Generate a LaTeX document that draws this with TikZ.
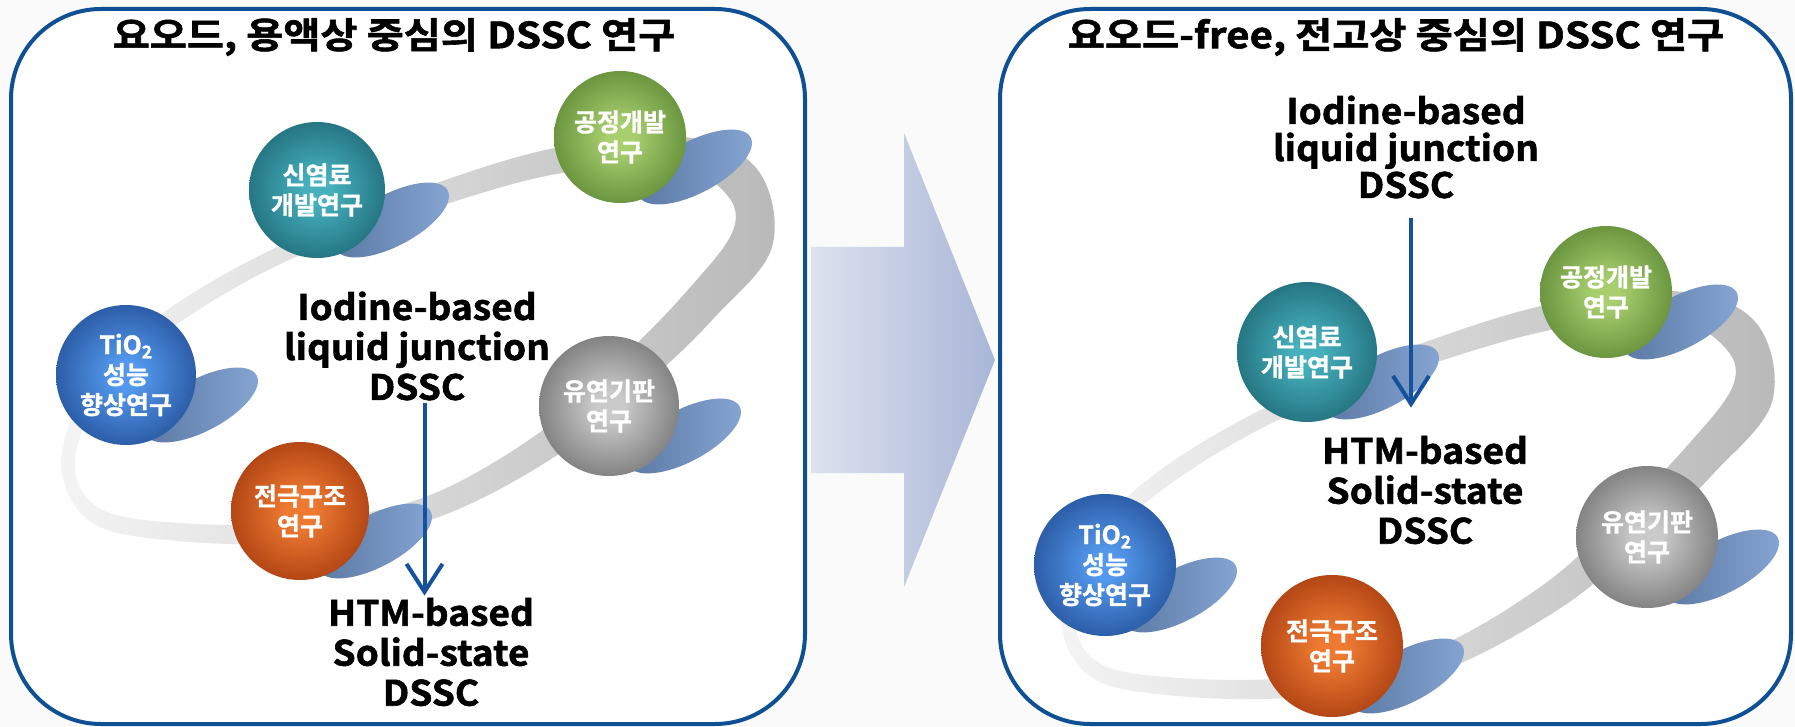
\documentclass[tikz,border=0pt]{standalone}
\usepackage{fontspec}
\newfontfamily\krb{Noto Sans CJK KR Bold}[FakeBold=1.2]
\newfontfamily\krl{Noto Sans CJK KR Bold}[FakeBold=1.6, FakeStretch=1.06]
\newfontfamily\krt{Noto Sans CJK KR Bold}[FakeBold=1.6, FakeStretch=1.12]
\usetikzlibrary{arrows.meta}

\definecolor{panelblue}{HTML}{0F4F94}
\definecolor{arrowblue}{HTML}{14529C}
\definecolor{ringL}{HTML}{F4F4F4}
\definecolor{ringR}{HTML}{B9B9B9}
\definecolor{shA}{HTML}{5A77A2}
\definecolor{shB}{HTML}{86A6D4}
\definecolor{bigA}{HTML}{DEE2EE}
\definecolor{bigB}{HTML}{A8B6D7}

\definecolor{tealA}{HTML}{46B0BD}\definecolor{tealB}{HTML}{1E6875}\definecolor{tealC}{HTML}{0A2C36}
\definecolor{greenA}{HTML}{A8CE6E}\definecolor{greenB}{HTML}{5C8834}\definecolor{greenC}{HTML}{253C13}
\definecolor{blueA}{HTML}{5398EC}\definecolor{blueB}{HTML}{234F98}\definecolor{blueC}{HTML}{0B1E46}
\definecolor{grayA}{HTML}{CACACA}\definecolor{grayB}{HTML}{727272}\definecolor{grayC}{HTML}{2C2C2C}
\definecolor{rustA}{HTML}{EE7A32}\definecolor{rustB}{HTML}{A63A0E}\definecolor{rustC}{HTML}{3C0F04}

% radial shading for a glossy ball: light core, dark rim
\newcommand\mksphere[4]{%
  \pgfdeclareradialshading{#1}{\pgfpoint{0bp}{0bp}}%
    {color(0bp)=(#2); color(5bp)=(#2); color(30bp)=(#3); color(50bp)=(#4); color(75bp)=(#4)}}
\mksphere{sphTeal}{tealA}{tealB}{tealC}
\mksphere{sphGreen}{greenA}{greenB}{greenC}
\mksphere{sphBlue}{blueA}{blueB}{blueC}
\mksphere{sphGray}{grayA}{grayB}{grayC}
\mksphere{sphRust}{rustA}{rustB}{rustC}

% floor shadow of a ball whose centre is #1
\newcommand\floorshadow[1]{%
  \begin{scope}[shift={#1}]
    \begin{scope}[shift={(75,30)}, rotate=28]
      \shade[left color=shA, right color=shB] (0,0) ellipse [x radius=63pt, y radius=26pt];
    \end{scope}
  \end{scope}}

% the tilted oval track behind the balls
\newcommand\trackband{%
  \shade[even odd rule, left color=ringL, right color=ringR]
    plot[smooth cycle, tension=0.6] coordinates {(283,244) (431,185) (560,147) (684,137) (757,169) (772,247) (714,318) (652,378) (559,454) (433,519) (301,542) (178,541) (91,522) (61,460) (94,381) (163,313)}
    plot[smooth cycle, tension=0.6] coordinates {(289,260) (437,207) (562,173) (676,167) (727,195) (732,233) (686,292) (628,352) (543,430) (425,497) (299,522) (180,523) (99,508) (75,460) (106,389) (173,327)};}

\tikzset{
  panel/.style={draw=panelblue, line width=4pt, rounded corners=90pt, fill=white},
  ttl/.style={font=\krt\fontsize{36}{40}\selectfont, text=black, inner sep=0pt},
  lbl/.style={font=\krl\fontsize{35}{40}\selectfont, align=center, text=black, inner sep=2pt},
  ball/.style={circle, inner sep=0pt, text=white, align=center,
               font=\krb\fontsize{25}{30}\selectfont},
  conn/.style={draw=arrowblue, line width=4pt,
               -{Straight Barb[length=28pt, width=36pt]}},
}

\begin{document}
\begin{tikzpicture}[x=1pt, y=-1pt]
\useasboundingbox (0,0) rectangle (1795,727);
\fill[white!98!black] (0,0) rectangle (1795,727);

% two rounded panels
\draw[panel] (11,9) rectangle (805,724);
\draw[panel] (1000,9) rectangle (1791,724);

% transition arrow between the panels
\shade[left color=bigA, right color=bigB]
  (811,247) -- (904,247) -- (904,133) -- (995,360) -- (904,587) -- (904,473) -- (811,473) -- cycle;

% ---------------- left panel ----------------
\node[ttl] (tL) at (394,37) {요오드, 용액상 중심의 DSSC 연구};
\trackband
\floorshadow{(317,190)}
\floorshadow{(620,137)}
\floorshadow{(126,375)}
\floorshadow{(609,406)}
\floorshadow{(300,511)}
\node[ball, shading=sphTeal,  minimum size=136pt] (sL1) at (317,190) {신염료\\개발연구};
\node[ball, shading=sphGreen, minimum size=132pt] (sL2) at (620,137) {공정개발\\연구};
\node[ball, shading=sphBlue,  minimum size=140pt] (sL3) at (126,375) {TiO\textsubscript{2}\\성능\\향상연구};
\node[ball, shading=sphGray,  minimum size=140pt] (sL4) at (609,406) {유연기판\\연구};
\node[ball, shading=sphRust,  minimum size=138pt] (sL5) at (300,511) {전극구조\\연구};

\node[lbl] (iodL) at (417,346) {Iodine-based\\liquid junction\\DSSC};
\node[lbl] (htmL) at (431,652) {HTM-based\\Solid-state\\DSSC};
\coordinate (axL) at (424.5,0);
\draw[conn] (iodL.south -| axL) -- (htmL.north -| axL);

% ---------------- right panel ----------------
\node[ttl] (tR) at (1396,37) {요오드-free, 전고상 중심의 DSSC 연구};
\begin{scope}[shift={(1000,155)}]
  \trackband
\end{scope}
\floorshadow{(1307,352)}
\floorshadow{(1606,292)}
\floorshadow{(1105,565)}
\floorshadow{(1647,537)}
\floorshadow{(1332,646)}
\node[ball, shading=sphTeal,  minimum size=140pt] (sR1) at (1307,352) {신염료\\개발연구};
\node[ball, shading=sphGreen, minimum size=132pt] (sR2) at (1606,292) {공정개발\\연구};
\node[ball, shading=sphBlue,  minimum size=142pt] (sR3) at (1105,565) {TiO\textsubscript{2}\\성능\\향상연구};
\node[ball, shading=sphGray,  minimum size=142pt] (sR4) at (1647,537) {유연기판\\연구};
\node[ball, shading=sphRust,  minimum size=142pt] (sR5) at (1332,646) {전극구조\\연구};

\node[lbl, font=\krl\fontsize{35}{37}\selectfont] (iodR) at (1406,147) {Iodine-based\\liquid junction\\DSSC};
\node[lbl] (htmR) at (1425,490) {HTM-based\\Solid-state\\DSSC};
\coordinate (axR) at (1411,0);
\draw[conn, shorten <=17pt, shorten >=26pt] (iodR.south -| axR) -- (htmR.north -| axR);
\end{tikzpicture}
\end{document}
